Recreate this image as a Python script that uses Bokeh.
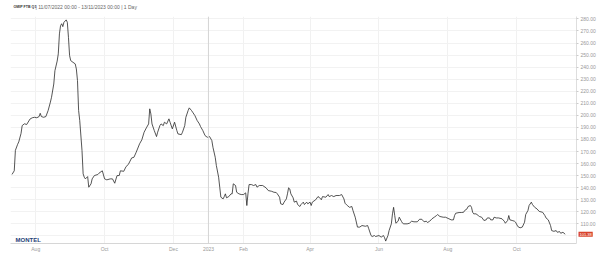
import pandas as pd
from bokeh.plotting import figure
from bokeh.models import (Range1d, FixedTicker, CustomJSTickFormatter, Span, Label,
                          PrintfTickFormatter, ColumnDataSource)
from bokeh.embed import file_html
from bokeh.resources import INLINE

# ---------------- data ----------------
title_main = "OMIP FTB Q1"
title_rest = " | 11/07/2022 00:00 - 13/11/2023 00:00 | 1 Day"
logo_text = "MONTEL"
last_label = "101.38"

dates = [
    "2022-07-11", "2022-07-13", "2022-07-14", "2022-07-16", "2022-07-17", "2022-07-19", "2022-07-20",
    "2022-07-22", "2022-07-24", "2022-07-27", "2022-07-29", "2022-07-31",
    "2022-08-02", "2022-08-04", "2022-08-05", "2022-08-06", "2022-08-08", "2022-08-10", "2022-08-12",
    "2022-08-14", "2022-08-15", "2022-08-17", "2022-08-18", "2022-08-20", "2022-08-21", "2022-08-22",
    "2022-08-23", "2022-08-24", "2022-08-25", "2022-08-26", "2022-08-28", "2022-08-29", "2022-08-30",
    "2022-08-31",
    "2022-09-01", "2022-09-03", "2022-09-05", "2022-09-06", "2022-09-07", "2022-09-08", "2022-09-09",
    "2022-09-11", "2022-09-12", "2022-09-13", "2022-09-14", "2022-09-16", "2022-09-17", "2022-09-19",
    "2022-09-20", "2022-09-22", "2022-09-25", "2022-09-26", "2022-09-29",
    "2022-10-01", "2022-10-03", "2022-10-06", "2022-10-08", "2022-10-10", "2022-10-12", "2022-10-14",
    "2022-10-15", "2022-10-18", "2022-10-20", "2022-10-22", "2022-10-25", "2022-10-27", "2022-10-29",
    "2022-11-01", "2022-11-03", "2022-11-05", "2022-11-07", "2022-11-09", "2022-11-10", "2022-11-11",
    "2022-11-12", "2022-11-14", "2022-11-16", "2022-11-17", "2022-11-19", "2022-11-20", "2022-11-22",
    "2022-11-23", "2022-11-25", "2022-11-27", "2022-11-28", "2022-11-30",
    "2022-12-02", "2022-12-04", "2022-12-05", "2022-12-08", "2022-12-09", "2022-12-11", "2022-12-12",
    "2022-12-14", "2022-12-15", "2022-12-17", "2022-12-18", "2022-12-20", "2022-12-22", "2022-12-24",
    "2022-12-25", "2022-12-27", "2022-12-29", "2022-12-31",
    "2023-01-02", "2023-01-04", "2023-01-05", "2023-01-07", "2023-01-08", "2023-01-10", "2023-01-11",
    "2023-01-12", "2023-01-14", "2023-01-15", "2023-01-16", "2023-01-17", "2023-01-19", "2023-01-21",
    "2023-01-22", "2023-01-23", "2023-01-25", "2023-01-26", "2023-01-28", "2023-01-30",
    "2023-02-01", "2023-02-03", "2023-02-04", "2023-02-05", "2023-02-06", "2023-02-08", "2023-02-10",
    "2023-02-12", "2023-02-13", "2023-02-15", "2023-02-18", "2023-02-21", "2023-02-23", "2023-02-26",
    "2023-02-28",
    "2023-03-02", "2023-03-03", "2023-03-05", "2023-03-06", "2023-03-08", "2023-03-09", "2023-03-11",
    "2023-03-12", "2023-03-13", "2023-03-14", "2023-03-15", "2023-03-17", "2023-03-18", "2023-03-20",
    "2023-03-21", "2023-03-23", "2023-03-24", "2023-03-26", "2023-03-27", "2023-03-29", "2023-03-30",
    "2023-04-01", "2023-04-02", "2023-04-03", "2023-04-06", "2023-04-08", "2023-04-09", "2023-04-11",
    "2023-04-12", "2023-04-15", "2023-04-17", "2023-04-18", "2023-04-20", "2023-04-22", "2023-04-24",
    "2023-04-27", "2023-04-29",
    "2023-05-01", "2023-05-02", "2023-05-04", "2023-05-06", "2023-05-08", "2023-05-09", "2023-05-11",
    "2023-05-13", "2023-05-15", "2023-05-17", "2023-05-20", "2023-05-22", "2023-05-23", "2023-05-25",
    "2023-05-26", "2023-05-28", "2023-05-29",
    "2023-06-01", "2023-06-03", "2023-06-05", "2023-06-06", "2023-06-07", "2023-06-09", "2023-06-10",
    "2023-06-12", "2023-06-13", "2023-06-14", "2023-06-15", "2023-06-16", "2023-06-18", "2023-06-19",
    "2023-06-21", "2023-06-22", "2023-06-23", "2023-06-26", "2023-06-28", "2023-06-30",
    "2023-07-02", "2023-07-05", "2023-07-07", "2023-07-09", "2023-07-11", "2023-07-13", "2023-07-14",
    "2023-07-16", "2023-07-18", "2023-07-20", "2023-07-22", "2023-07-23", "2023-07-25", "2023-07-28",
    "2023-07-30",
    "2023-08-02", "2023-08-04", "2023-08-06", "2023-08-07", "2023-08-08", "2023-08-11", "2023-08-13",
    "2023-08-15", "2023-08-16", "2023-08-18", "2023-08-19", "2023-08-21", "2023-08-22", "2023-08-23",
    "2023-08-24", "2023-08-26", "2023-08-28", "2023-08-29", "2023-08-31",
    "2023-09-02", "2023-09-04", "2023-09-05", "2023-09-07", "2023-09-08", "2023-09-10", "2023-09-11",
    "2023-09-13", "2023-09-15", "2023-09-18", "2023-09-20", "2023-09-21", "2023-09-23", "2023-09-24",
    "2023-09-25", "2023-09-27", "2023-09-29", "2023-09-30",
    "2023-10-02", "2023-10-04", "2023-10-06", "2023-10-08", "2023-10-09", "2023-10-11", "2023-10-12",
    "2023-10-14", "2023-10-15", "2023-10-17", "2023-10-19", "2023-10-21", "2023-10-24", "2023-10-26",
    "2023-10-27", "2023-10-29", "2023-10-31",
    "2023-11-01", "2023-11-03", "2023-11-05", "2023-11-06", "2023-11-08", "2023-11-09", "2023-11-11",
    "2023-11-13",
]

prices = [
    151, 154, 171, 176, 178, 185, 191.5, 193, 192.4, 197, 198, 198.4,
    198, 199, 201.7, 199, 198.4, 199, 204, 211, 215, 226, 237, 245, 251, 267.6, 274.4, 276, 273.6,
    277.2, 279.2, 277.2, 264.7, 249.6,
    245.4, 244, 242.7, 238.5, 228.8, 204, 195.7, 170.8, 151.5, 148.7, 147.3, 149.2, 140.4, 143.2,
    147.3, 150.1, 150.9, 152, 154,
    147.3, 146.5, 147.3, 147.3, 143.7, 150, 150.1, 154, 153.6, 157.5, 159.2, 164.7, 165.2, 169.4,
    176.4, 179.7, 186, 189.6, 192.9, 205.4, 201.2, 192.9, 187.4, 182.4, 186, 191.5, 192.9, 191.5,
    194.3, 192.9, 197.1, 194.3, 188.8,
    194.3, 187.4, 184.6, 184, 186, 191.5, 198.4, 204, 206.2, 204, 202.6, 199.8, 195.7, 192.9, 190.7,
    187.4, 183.2, 181.8,
    182.4, 179.1, 173.5, 165.2, 158.4, 148.7, 140.4, 132.1, 130.7, 132.6, 134.9, 131.6, 132.6, 134.9,
    134.9, 143.2, 141.8, 136.2, 134.9, 134.3,
    134.3, 135.7, 125.2, 134.9, 142.6, 142.6, 141.8, 142.6, 140.4, 141.8, 141.8, 139.9, 137.6, 137,
    136.2,
    136, 134.9, 132.1, 126.6, 126, 128, 130.7, 134.9, 139.9, 139, 134.9, 131.6, 128, 128.9, 126,
    124.4, 126, 128, 126, 128, 126.6,
    128, 125.2, 128, 130, 132.6, 132.1, 130, 132.6, 132.1, 134.3, 132.6, 133.5, 132.6, 133.5, 133.5,
    134.3,
    130.7, 127.1, 125.2, 123.7, 124.4, 121.1, 115.5, 107.3, 107.3, 108.6, 108, 108.6, 105.9, 100.3,
    99.5, 100.3, 99.5,
    100.3, 99, 100.3, 98.5, 95.7, 100.3, 104.4, 110, 118.3, 123.7, 116.9, 110.5, 112.2, 115.5, 112,
    110.5, 110, 110, 110.5, 112.2,
    111.7, 111.7, 113.8, 113.8, 111.7, 112.2, 111.1, 112.2, 114.2, 115.5, 116.9, 117.7, 116.1, 115.5,
    115.5,
    114.2, 113.3, 113.3, 116.9, 118.8, 119.4, 119.4, 119.6, 121.1, 122.4, 124.4, 125.2, 123.7, 119.6,
    118.3, 118.3, 116.9, 116.1, 115.5,
    112.8, 113.3, 114.9, 114.9, 113.3, 113.3, 115.5, 114.9, 114.9, 114.2, 112.2, 110.5, 112.8, 116.9,
    113.3, 112.8, 112.2, 111.4,
    107.8, 106.7, 107.3, 111.4, 117.7, 121.1, 125.2, 128, 126, 123.7, 122.4, 120.3, 119.6, 116.9,
    114.9, 113.3, 108.6,
    104.4, 103.8, 104.4, 103, 103.6, 102.2, 103, 101.38,
]

tick_dates = ["2022-08-01", "2022-10-01", "2022-12-01", "2023-01-01", "2023-02-01",
              "2023-04-01", "2023-06-01", "2023-08-01", "2023-10-01"]
tick_labels = ["Aug", "Oct", "Dec", "2023", "Feb", "Apr", "Jun", "Aug", "Oct"]
y_tick_values = [110, 120, 130, 140, 150, 160, 170, 180, 190, 200, 210, 220, 230, 240, 250,
                 260, 270, 280]
y_grid_values = [100] + y_tick_values
year_line_date = "2023-01-01"

FONT = "Liberation Sans"

# ---------------- figure ----------------
n = min(len(dates), len(prices))
src = ColumnDataSource(dict(x=pd.to_datetime(dates[:n]), y=prices[:n]))

t0 = pd.Timestamp(dates[0])
p = figure(width=598, height=263, x_axis_type="datetime", y_axis_location="right",
           output_backend="svg", toolbar_location=None,
           min_border_left=10, min_border_right=21, min_border_top=16, min_border_bottom=20,
           x_range=Range1d(t0 - pd.Timedelta(hours=32), t0 + pd.Timedelta(days=500)),
           y_range=Range1d(93.7, 282))
p.outline_line_color = None
p.background_fill_color = "white"
p.border_fill_color = "white"

def to_ms(d):
    return float(pd.Timestamp(d).value // 10**6)

tick_ms = [to_ms(d) for d in tick_dates]
p.xaxis.ticker = FixedTicker(ticks=tick_ms)
p.xaxis.formatter = CustomJSTickFormatter(
    args=dict(tvals=tick_ms, tnames=tick_labels),
    code="""
for (let k = 0; k < tvals.length; k++) {
  if (Math.abs(tvals[k] - tick) < 1000) { return tnames[k]; }
}
return '';
""")
p.xaxis.axis_line_color = "#d6d6d6"
p.xaxis.major_tick_line_color = None
p.xaxis.major_tick_out = 0
p.xaxis.major_tick_in = 0
p.xaxis.minor_tick_line_color = None
p.xaxis.minor_tick_out = 0
p.xaxis.major_label_text_font_size = "5px"
p.xaxis.major_label_text_color = "#999999"
p.xaxis.major_label_text_font = FONT
p.xaxis.major_label_standoff = 2

p.xgrid.ticker = FixedTicker(ticks=tick_ms)
p.xgrid.grid_line_color = "#f1f1f1"
p.xgrid.grid_line_width = 1

p.yaxis.ticker = FixedTicker(ticks=y_tick_values)
p.yaxis.formatter = PrintfTickFormatter(format="%.2f")
p.yaxis.axis_line_color = "#dedede"
p.yaxis.major_tick_line_color = "#cccccc"
p.yaxis.major_tick_out = 2
p.yaxis.major_tick_in = 0
p.yaxis.minor_tick_line_color = None
p.yaxis.minor_tick_out = 0
p.yaxis.major_label_text_font_size = "5px"
p.yaxis.major_label_text_color = "#999999"
p.yaxis.major_label_text_font = FONT
p.yaxis.major_label_standoff = 2

p.ygrid.ticker = FixedTicker(ticks=y_grid_values)
p.ygrid.grid_line_color = "#f2f2f2"
p.ygrid.grid_line_width = 1

p.add_layout(Span(location=to_ms(year_line_date), dimension="height",
                  line_color="#d4d4d4", line_width=1))

p.line(x="x", y="y", source=src, line_color="#2a2a2a", line_width=0.8)

# title (in the panel above the frame, so that it is not clipped; panels stack)
p.add_layout(Label(x=3, y=9.5, x_units="screen", y_units="screen", text=title_main,
                   text_font_size="3.6px", text_font_style="bold", text_color="#333333",
                   text_font=FONT, text_baseline="middle"), "above")
p.add_layout(Label(x=25, y=5.5, x_units="screen", y_units="screen", text=title_rest,
                   text_font_size="5px", text_color="#666666",
                   text_font=FONT, text_baseline="middle"), "above")

# logo
p.add_layout(Label(x=5, y=1, x_units="screen", y_units="screen", text=logo_text,
                   text_font_size="6px", text_font_style="bold", text_color="#1f3f78",
                   text_font=FONT, text_baseline="bottom"))

# last value marker next to the right axis (its panel sits below, so it is not clipped)
p.add_layout(Label(x=568, y=prices[n - 1], x_units="screen", y_units="data", text=last_label,
                   text_font_size="4px", text_color="white", text_font=FONT,
                   text_baseline="middle", background_fill_color="#d8432b",
                   padding=1), "below")

open("out.html", "w").write(file_html(p, INLINE))
